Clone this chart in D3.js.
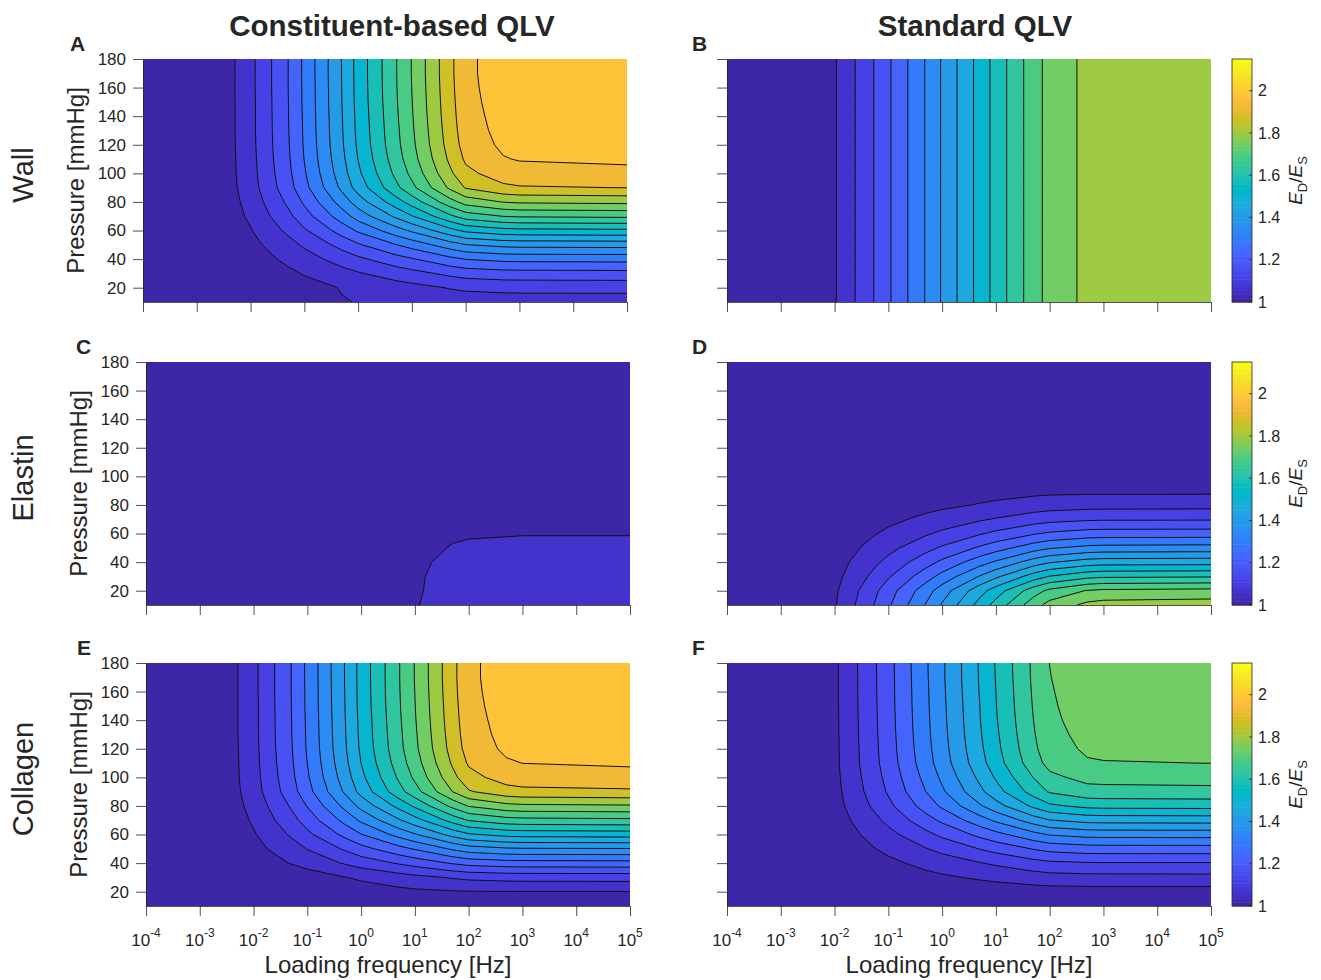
<!DOCTYPE html>
<html>
<head>
<meta charset="utf-8">
<script src="https://cdn.jsdelivr.net/npm/d3@7"></script>
<style>
  body { margin: 0; background: #fff; }
  text { font-family: "Liberation Sans", Arial, Helvetica, sans-serif; fill: #262626; }
</style>
</head>
<body>
<svg id="fig" width="1321" height="980"></svg>
<script>
// grid columns (loading frequency, Hz) and rows (pressure, mmHg)
const freqHz = [1e-4, 1e-3, 5e-3, 1e-2, 5e-2, 1e-1, 5e-1, 1, 5, 10, 50, 100, 500, 1e3, 1e5];
const pressureMmHg = [10, 20, 30, 40, 50, 60, 70, 80, 90, 100, 110, 120, 130, 140, 150, 160, 170, 180];

// E_D/E_S, one row per pressure (first row = 10 mmHg)
const wallConstituent = [
  [1, 1, 1.005, 1.009, 1.023, 1.032, 1.055, 1.059, 1.072, 1.076, 1.082, 1.084, 1.086, 1.087, 1.087],
  [1, 1, 1.007, 1.013, 1.030, 1.039, 1.060, 1.070, 1.089, 1.097, 1.118, 1.125, 1.131, 1.132, 1.133],
  [1, 1, 1.012, 1.020, 1.047, 1.061, 1.095, 1.110, 1.141, 1.154, 1.185, 1.197, 1.207, 1.208, 1.210],
  [1, 1, 1.017, 1.030, 1.069, 1.090, 1.139, 1.161, 1.206, 1.225, 1.271, 1.289, 1.303, 1.305, 1.307],
  [1, 1, 1.023, 1.041, 1.095, 1.124, 1.192, 1.223, 1.285, 1.311, 1.375, 1.400, 1.419, 1.422, 1.425],
  [1, 1, 1.031, 1.054, 1.127, 1.165, 1.254, 1.296, 1.377, 1.412, 1.497, 1.530, 1.555, 1.559, 1.563],
  [1, 1, 1.039, 1.068, 1.158, 1.205, 1.317, 1.369, 1.470, 1.514, 1.619, 1.660, 1.691, 1.696, 1.701],
  [1, 1, 1.045, 1.079, 1.184, 1.239, 1.370, 1.431, 1.549, 1.600, 1.723, 1.771, 1.807, 1.813, 1.819],
  [1, 1, 1.051, 1.089, 1.207, 1.269, 1.416, 1.484, 1.617, 1.675, 1.814, 1.867, 1.908, 1.915, 1.921],
  [1, 1, 1.053, 1.093, 1.216, 1.281, 1.435, 1.506, 1.645, 1.705, 1.850, 1.905, 1.949, 1.956, 1.962],
  [1, 1, 1.054, 1.095, 1.222, 1.289, 1.446, 1.519, 1.662, 1.724, 1.872, 1.929, 1.974, 1.981, 1.988],
  [1, 1, 1.055, 1.097, 1.225, 1.293, 1.453, 1.527, 1.672, 1.734, 1.885, 1.943, 1.988, 1.995, 2.002],
  [1, 1, 1.056, 1.098, 1.227, 1.295, 1.456, 1.531, 1.676, 1.739, 1.891, 1.950, 1.995, 2.002, 2.009],
  [1, 1, 1.056, 1.098, 1.228, 1.296, 1.458, 1.533, 1.680, 1.743, 1.896, 1.954, 2.000, 2.008, 2.014],
  [1, 1, 1.056, 1.098, 1.229, 1.298, 1.460, 1.536, 1.683, 1.746, 1.899, 1.958, 2.004, 2.012, 2.018],
  [1, 1, 1.056, 1.099, 1.230, 1.298, 1.461, 1.537, 1.685, 1.748, 1.902, 1.961, 2.007, 2.015, 2.021],
  [1, 1, 1.056, 1.099, 1.230, 1.299, 1.462, 1.538, 1.686, 1.750, 1.904, 1.963, 2.009, 2.017, 2.024],
  [1, 1, 1.056, 1.099, 1.230, 1.299, 1.462, 1.538, 1.686, 1.750, 1.904, 1.963, 2.009, 2.017, 2.024]
];

// standard QLV for the wall does not change with pressure
const wallStandardByFreq = [1, 1, 1, 1.052, 1.167, 1.221, 1.349, 1.408, 1.539, 1.596, 1.723, 1.768, 1.819, 1.828, 1.834];

const elastinConstituent = [
  [1, 1, 1, 1, 1, 1, 1.006, 1.012, 1.035, 1.055, 1.075, 1.078, 1.081, 1.081, 1.081],
  [1, 1, 1, 1, 1, 1, 1.006, 1.012, 1.032, 1.053, 1.073, 1.076, 1.078, 1.078, 1.078],
  [1, 1, 1, 1, 1, 1, 1.005, 1.010, 1.029, 1.052, 1.072, 1.074, 1.075, 1.075, 1.075],
  [1, 1, 1, 1, 1, 1, 1.003, 1.009, 1.026, 1.049, 1.068, 1.070, 1.072, 1.072, 1.072],
  [1, 1, 1, 1, 1, 1, 1.002, 1.006, 1.023, 1.043, 1.060, 1.063, 1.066, 1.066, 1.066],
  [1, 1, 1, 1, 1, 1, 1.002, 1.005, 1.017, 1.035, 1.052, 1.054, 1.055, 1.056, 1.056],
  [1, 1, 1, 1, 1, 1, 1.001, 1.003, 1.014, 1.029, 1.043, 1.045, 1.046, 1.046, 1.046],
  [1, 1, 1, 1, 1, 1, 1, 1.003, 1.012, 1.023, 1.035, 1.036, 1.036, 1.036, 1.036],
  [1, 1, 1, 1, 1, 1, 1, 1.003, 1.012, 1.023, 1.035, 1.036, 1.036, 1.036, 1.036],
  [1, 1, 1, 1, 1, 1, 1, 1.003, 1.012, 1.023, 1.035, 1.036, 1.036, 1.036, 1.036],
  [1, 1, 1, 1, 1, 1, 1, 1.003, 1.012, 1.023, 1.035, 1.036, 1.036, 1.036, 1.036],
  [1, 1, 1, 1, 1, 1, 1, 1.003, 1.012, 1.023, 1.035, 1.036, 1.036, 1.036, 1.036],
  [1, 1, 1, 1, 1, 1, 1, 1.003, 1.012, 1.023, 1.035, 1.036, 1.036, 1.036, 1.036],
  [1, 1, 1, 1, 1, 1, 1, 1.003, 1.012, 1.023, 1.035, 1.036, 1.036, 1.036, 1.036],
  [1, 1, 1, 1, 1, 1, 1, 1.003, 1.012, 1.023, 1.035, 1.036, 1.036, 1.036, 1.036],
  [1, 1, 1, 1, 1, 1, 1, 1.003, 1.012, 1.023, 1.035, 1.036, 1.036, 1.036, 1.036],
  [1, 1, 1, 1, 1, 1, 1, 1.003, 1.012, 1.023, 1.035, 1.036, 1.036, 1.036, 1.036],
  [1, 1, 1, 1, 1, 1, 1, 1.003, 1.012, 1.023, 1.035, 1.036, 1.036, 1.036, 1.036]
];

const elastinStandard = [
  [1, 1, 1, 1.052, 1.167, 1.221, 1.349, 1.408, 1.539, 1.596, 1.723, 1.768, 1.819, 1.828, 1.834],
  [1, 1, 1, 1.047, 1.153, 1.203, 1.320, 1.374, 1.495, 1.546, 1.663, 1.704, 1.751, 1.759, 1.765],
  [1, 1, 1, 1.039, 1.125, 1.166, 1.262, 1.307, 1.406, 1.448, 1.544, 1.577, 1.616, 1.623, 1.627],
  [1, 1, 1, 1.031, 1.099, 1.131, 1.207, 1.242, 1.320, 1.353, 1.429, 1.455, 1.486, 1.491, 1.494],
  [1, 1, 1, 1.023, 1.074, 1.098, 1.154, 1.180, 1.238, 1.263, 1.319, 1.339, 1.361, 1.365, 1.368],
  [1, 1, 1, 1.016, 1.052, 1.069, 1.108, 1.126, 1.167, 1.185, 1.224, 1.238, 1.254, 1.257, 1.258],
  [1, 1, 1, 1.010, 1.033, 1.044, 1.070, 1.082, 1.108, 1.119, 1.145, 1.154, 1.164, 1.166, 1.167],
  [1, 1, 1, 1.006, 1.019, 1.025, 1.040, 1.046, 1.061, 1.068, 1.082, 1.088, 1.093, 1.094, 1.095],
  [1, 1, 1, 1.003, 1.010, 1.013, 1.020, 1.024, 1.032, 1.035, 1.042, 1.044, 1.045, 1.045, 1.045],
  [1, 1, 1, 1.002, 1.005, 1.007, 1.011, 1.013, 1.017, 1.018, 1.022, 1.024, 1.025, 1.026, 1.026],
  [1, 1, 1, 1.001, 1.003, 1.004, 1.006, 1.007, 1.009, 1.010, 1.012, 1.013, 1.014, 1.014, 1.014],
  [1, 1, 1, 1.001, 1.002, 1.002, 1.004, 1.004, 1.006, 1.006, 1.007, 1.008, 1.008, 1.009, 1.009],
  [1, 1, 1, 1, 1.001, 1.001, 1.002, 1.002, 1.003, 1.004, 1.004, 1.005, 1.005, 1.005, 1.005],
  [1, 1, 1, 1, 1, 1, 1, 1, 1, 1, 1, 1, 1, 1, 1],
  [1, 1, 1, 1, 1, 1, 1, 1, 1, 1, 1, 1, 1, 1, 1],
  [1, 1, 1, 1, 1, 1, 1, 1, 1, 1, 1, 1, 1, 1, 1],
  [1, 1, 1, 1, 1, 1, 1, 1, 1, 1, 1, 1, 1, 1, 1],
  [1, 1, 1, 1, 1, 1, 1, 1, 1, 1, 1, 1, 1, 1, 1]
];

const collagenConstituent = [
  [1, 1, 1, 1.001, 1.003, 1.005, 1.009, 1.012, 1.017, 1.019, 1.022, 1.023, 1.024, 1.024, 1.024],
  [1, 1, 1.001, 1.003, 1.009, 1.013, 1.026, 1.032, 1.043, 1.047, 1.053, 1.055, 1.056, 1.056, 1.056],
  [1, 1, 1.003, 1.007, 1.020, 1.029, 1.056, 1.066, 1.089, 1.099, 1.120, 1.128, 1.135, 1.137, 1.138],
  [1, 1, 1.015, 1.026, 1.060, 1.078, 1.120, 1.140, 1.178, 1.195, 1.235, 1.250, 1.262, 1.264, 1.266],
  [1, 1, 1.022, 1.039, 1.090, 1.117, 1.180, 1.210, 1.268, 1.292, 1.353, 1.376, 1.394, 1.397, 1.399],
  [1, 1, 1.030, 1.052, 1.122, 1.159, 1.245, 1.285, 1.364, 1.397, 1.479, 1.510, 1.535, 1.539, 1.543],
  [1, 1, 1.037, 1.065, 1.152, 1.197, 1.305, 1.355, 1.453, 1.495, 1.597, 1.636, 1.666, 1.671, 1.676],
  [1, 1, 1.044, 1.077, 1.179, 1.233, 1.361, 1.420, 1.535, 1.585, 1.705, 1.751, 1.787, 1.793, 1.798],
  [1, 1, 1.050, 1.088, 1.205, 1.266, 1.411, 1.479, 1.611, 1.667, 1.805, 1.857, 1.898, 1.905, 1.911],
  [1, 1, 1.053, 1.092, 1.215, 1.280, 1.432, 1.503, 1.641, 1.701, 1.845, 1.901, 1.944, 1.951, 1.957],
  [1, 1, 1.054, 1.095, 1.221, 1.288, 1.445, 1.518, 1.660, 1.721, 1.870, 1.927, 1.971, 1.978, 1.985],
  [1, 1, 1.055, 1.097, 1.225, 1.293, 1.453, 1.527, 1.672, 1.734, 1.885, 1.943, 1.988, 1.995, 2.002],
  [1, 1, 1.056, 1.098, 1.227, 1.295, 1.456, 1.531, 1.676, 1.739, 1.891, 1.950, 1.995, 2.002, 2.009],
  [1, 1, 1.056, 1.098, 1.228, 1.296, 1.458, 1.533, 1.680, 1.743, 1.896, 1.954, 2.000, 2.008, 2.014],
  [1, 1, 1.056, 1.098, 1.229, 1.298, 1.460, 1.536, 1.683, 1.746, 1.899, 1.958, 2.004, 2.012, 2.018],
  [1, 1, 1.056, 1.099, 1.230, 1.298, 1.461, 1.537, 1.685, 1.748, 1.902, 1.961, 2.007, 2.015, 2.021],
  [1, 1, 1.056, 1.099, 1.230, 1.299, 1.462, 1.538, 1.686, 1.750, 1.904, 1.963, 2.009, 2.017, 2.024],
  [1, 1, 1.056, 1.099, 1.230, 1.299, 1.462, 1.538, 1.686, 1.750, 1.904, 1.963, 2.009, 2.017, 2.024]
];

const collagenStandard = [
  [1, 1, 1, 1.001, 1.002, 1.003, 1.005, 1.006, 1.008, 1.009, 1.011, 1.011, 1.012, 1.012, 1.012],
  [1, 1, 1, 1.002, 1.007, 1.009, 1.015, 1.017, 1.023, 1.025, 1.031, 1.033, 1.034, 1.035, 1.035],
  [1, 1, 1, 1.006, 1.020, 1.026, 1.042, 1.049, 1.065, 1.072, 1.087, 1.093, 1.097, 1.097, 1.098],
  [1, 1, 1, 1.010, 1.034, 1.045, 1.073, 1.085, 1.112, 1.124, 1.151, 1.161, 1.168, 1.169, 1.169],
  [1, 1, 1, 1.015, 1.053, 1.070, 1.112, 1.131, 1.174, 1.192, 1.233, 1.248, 1.260, 1.261, 1.262],
  [1, 1, 1, 1.021, 1.074, 1.098, 1.158, 1.184, 1.244, 1.270, 1.327, 1.349, 1.365, 1.367, 1.368],
  [1, 1, 1, 1.028, 1.097, 1.129, 1.207, 1.241, 1.320, 1.355, 1.430, 1.458, 1.479, 1.481, 1.483],
  [1, 1, 1, 1.035, 1.120, 1.158, 1.255, 1.297, 1.395, 1.437, 1.529, 1.564, 1.590, 1.593, 1.595],
  [1, 1, 1, 1.039, 1.136, 1.179, 1.288, 1.336, 1.446, 1.494, 1.599, 1.638, 1.668, 1.670, 1.673],
  [1, 1, 1, 1.042, 1.144, 1.190, 1.305, 1.356, 1.473, 1.524, 1.634, 1.676, 1.708, 1.710, 1.713],
  [1, 1, 1, 1.044, 1.151, 1.199, 1.320, 1.373, 1.496, 1.549, 1.665, 1.709, 1.742, 1.745, 1.748],
  [1, 1, 1, 1.044, 1.153, 1.203, 1.326, 1.380, 1.505, 1.559, 1.678, 1.723, 1.756, 1.759, 1.762],
  [1, 1, 1, 1.045, 1.155, 1.205, 1.330, 1.384, 1.511, 1.565, 1.685, 1.730, 1.764, 1.767, 1.770],
  [1, 1, 1, 1.045, 1.156, 1.207, 1.332, 1.387, 1.515, 1.570, 1.690, 1.736, 1.770, 1.773, 1.776],
  [1, 1, 1, 1.046, 1.157, 1.208, 1.334, 1.389, 1.517, 1.573, 1.694, 1.740, 1.774, 1.777, 1.780],
  [1, 1, 1, 1.046, 1.158, 1.209, 1.335, 1.391, 1.520, 1.575, 1.697, 1.743, 1.777, 1.780, 1.783],
  [1, 1, 1, 1.046, 1.158, 1.209, 1.337, 1.393, 1.522, 1.577, 1.700, 1.746, 1.780, 1.783, 1.786],
  [1, 1, 1, 1.046, 1.159, 1.210, 1.338, 1.393, 1.523, 1.579, 1.701, 1.748, 1.782, 1.785, 1.788]
];

const contourLevels = [1.0575, 1.115, 1.1725, 1.23, 1.2875, 1.345, 1.4025, 1.46, 1.5175, 1.575,
  1.6325, 1.69, 1.7475, 1.805, 1.8625, 1.92, 1.9775, 2.035, 2.0925];
const colorLimits = [1, 2.15];
const freqTickExponents = [-4, -3, -2, -1, 0, 1, 2, 3, 4, 5];
const pressureTicks = [20, 40, 60, 80, 100, 120, 140, 160, 180];
const colorbarTicks = [1, 1.2, 1.4, 1.6, 1.8, 2];

// MATLAB parula, 64 entries
const parula = [
  [0.2422,0.1504,0.6603],[0.2504,0.1650,0.7076],[0.2578,0.1818,0.7511],[0.2647,0.1978,0.7952],
  [0.2706,0.2147,0.8364],[0.2751,0.2342,0.8710],[0.2783,0.2559,0.8991],[0.2803,0.2782,0.9221],
  [0.2813,0.3006,0.9414],[0.2810,0.3228,0.9579],[0.2795,0.3447,0.9717],[0.2760,0.3667,0.9829],
  [0.2699,0.3892,0.9906],[0.2602,0.4123,0.9952],[0.2440,0.4358,0.9988],[0.2206,0.4603,0.9973],
  [0.1963,0.4847,0.9892],[0.1834,0.5074,0.9798],[0.1786,0.5289,0.9682],[0.1764,0.5499,0.9520],
  [0.1687,0.5703,0.9359],[0.1540,0.5902,0.9218],[0.1460,0.6091,0.9079],[0.1380,0.6276,0.8973],
  [0.1248,0.6459,0.8883],[0.1113,0.6635,0.8763],[0.0952,0.6798,0.8598],[0.0689,0.6948,0.8394],
  [0.0297,0.7082,0.8163],[0.0036,0.7203,0.7917],[0.0067,0.7312,0.7660],[0.0433,0.7411,0.7394],
  [0.0964,0.7500,0.7120],[0.1408,0.7584,0.6842],[0.1717,0.7670,0.6554],[0.1938,0.7758,0.6251],
  [0.2161,0.7843,0.5923],[0.2470,0.7918,0.5567],[0.2906,0.7973,0.5188],[0.3406,0.8008,0.4789],
  [0.3909,0.8029,0.4354],[0.4456,0.8024,0.3909],[0.5044,0.7993,0.3480],[0.5616,0.7942,0.3045],
  [0.6174,0.7876,0.2612],[0.6720,0.7793,0.2227],[0.7242,0.7698,0.1910],[0.7738,0.7598,0.1646],
  [0.8203,0.7498,0.1535],[0.8634,0.7406,0.1596],[0.9035,0.7330,0.1774],[0.9393,0.7288,0.2100],
  [0.9728,0.7298,0.2394],[0.9956,0.7434,0.2371],[0.9970,0.7659,0.2199],[0.9952,0.7893,0.2028],
  [0.9892,0.8136,0.1885],[0.9786,0.8386,0.1766],[0.9676,0.8639,0.1643],[0.9610,0.8890,0.1537],
  [0.9597,0.9135,0.1423],[0.9628,0.9373,0.1265],[0.9691,0.9606,0.1064],[0.9769,0.9839,0.0805]
];

const svg = d3.select('#fig');
const axisColor = '#262626';

function colorOf(v) {
  const t = (v - colorLimits[0]) / (colorLimits[1] - colorLimits[0]);
  const i = Math.max(0, Math.min(63, Math.floor(t * 64 + 1e-6)));
  return d3.rgb(parula[i][0] * 255, parula[i][1] * 255, parula[i][2] * 255).formatHex();
}

const panels = [
  { key: 'A', grid: wallConstituent, left: 143, right: 627, top: 59, bottom: 302, yLabels: true, xLabels: false, bar: false, letterX: 70 },
  { key: 'B', grid: pressureMmHg.map(() => wallStandardByFreq), left: 727, right: 1211, top: 59, bottom: 302, yLabels: false, xLabels: false, bar: true, letterX: 692 },
  { key: 'C', grid: elastinConstituent, left: 146, right: 630, top: 362, bottom: 605, yLabels: true, xLabels: false, bar: false, letterX: 76 },
  { key: 'D', grid: elastinStandard, left: 727, right: 1211, top: 362, bottom: 605, yLabels: false, xLabels: false, bar: true, letterX: 692 },
  { key: 'E', grid: collagenConstituent, left: 146, right: 630, top: 663, bottom: 906, yLabels: true, xLabels: true, bar: false, letterX: 77 },
  { key: 'F', grid: collagenStandard, left: 727, right: 1211, top: 663, bottom: 906, yLabels: false, xLabels: true, bar: true, letterX: 692 }
];

// cut a ring into the parts that are not on the plot border
function splitIsolines(pts, p) {
  const eq = (a, b) => Math.abs(a - b) < 1e-6;
  const onBorder = (u, v) =>
    (eq(u[0], v[0]) && (eq(u[0], p.left) || eq(u[0], p.right))) ||
    (eq(u[1], v[1]) && (eq(u[1], p.top) || eq(u[1], p.bottom)));
  const out = [];
  let cur = [];
  for (let i = 1; i < pts.length; i++) {
    if (onBorder(pts[i - 1], pts[i])) {
      if (cur.length > 1) out.push(cur);
      cur = [];
    } else {
      if (!cur.length) cur.push(pts[i - 1]);
      cur.push(pts[i]);
    }
  }
  if (cur.length > 1) out.push(cur);
  return out;
}

function drawPanel(p) {
  const g = svg.append('g');
  const x = d3.scaleLog().domain([1e-4, 1e5]).range([p.left, p.right]);
  const y = d3.scaleLinear().domain([10, 180]).range([p.bottom, p.top]);
  const nx = freqHz.length, ny = pressureMmHg.length;

  // grid index -> data coordinates
  const colLog = d3.scaleLinear().domain(d3.range(nx)).range(freqHz.map(Math.log10));
  const rowP = d3.scaleLinear().domain(d3.range(ny)).range(pressureMmHg);
  const clampIdx = (c, n) => Math.max(0, Math.min(n - 1, c - 0.5));
  const toPx = ([a, b]) => [x(Math.pow(10, colLog(clampIdx(a, nx)))), y(rowP(clampIdx(b, ny)))];

  const contours = d3.contours().size([nx, ny]).thresholds(contourLevels)(p.grid.flat());

  const clipId = 'clip' + p.key;
  g.append('clipPath').attr('id', clipId).append('rect')
    .attr('x', p.left).attr('y', p.top)
    .attr('width', p.right - p.left).attr('height', p.bottom - p.top);
  const plot = g.append('g').attr('clip-path', `url(#${clipId})`);

  plot.append('rect')
    .attr('x', p.left).attr('y', p.top)
    .attr('width', p.right - p.left).attr('height', p.bottom - p.top)
    .attr('fill', colorOf(colorLimits[0]));

  const line = d3.line();
  contours.forEach(c => {
    if (!c.coordinates.length) return;
    const d = c.coordinates.map(poly => poly.map(ring => line(ring.map(toPx)) + 'Z').join('')).join('');
    plot.append('path').attr('d', d).attr('fill', colorOf(c.value)).attr('fill-rule', 'evenodd');
  });

  contours.forEach(c => {
    c.coordinates.forEach(poly => poly.forEach(ring => {
      splitIsolines(ring.map(toPx), p).forEach(seg => {
        plot.append('path').attr('d', line(seg))
          .attr('fill', 'none').attr('stroke', '#111').attr('stroke-width', 1);
      });
    }));
  });

  // axes
  const yAxis = d3.axisLeft(y).tickValues(pressureTicks).tickSize(10).tickSizeOuter(0).tickPadding(7)
    .tickFormat(p.yLabels ? d3.format('d') : () => '');
  const ya = g.append('g').attr('transform', `translate(${p.left},0)`).call(yAxis);
  const xAxis = d3.axisBottom(x).tickValues(freqTickExponents.map(e => Math.pow(10, e)))
    .tickSize(10).tickSizeOuter(0).tickFormat(() => '');
  const xa = g.append('g').attr('transform', `translate(0,${p.bottom})`).call(xAxis);
  [ya, xa].forEach(a => {
    a.selectAll('path, line').attr('stroke', axisColor).attr('stroke-width', 0.8);
    a.selectAll('text').attr('font-size', 17).attr('fill', axisColor)
      .attr('font-family', '"Liberation Sans", Arial, sans-serif');
  });

  if (p.xLabels) {
    freqTickExponents.forEach(e => {
      const t = g.append('text').attr('x', x(Math.pow(10, e))).attr('y', p.bottom + 40)
        .attr('text-anchor', 'middle').attr('font-size', 17);
      t.append('tspan').text('10');
      t.append('tspan').attr('dy', -9).attr('font-size', 12).text(String(e));
    });
    g.append('text').attr('x', (p.left + p.right) / 2).attr('y', p.bottom + 67)
      .attr('text-anchor', 'middle').attr('font-size', 24).text('Loading frequency [Hz]');
  }
  if (p.yLabels) {
    g.append('text')
      .attr('transform', `translate(${p.left - 59},${(p.top + p.bottom) / 2}) rotate(-90)`)
      .attr('text-anchor', 'middle').attr('font-size', 24).text('Pressure [mmHg]');
  }

  g.append('text').attr('x', p.letterX).attr('y', p.top - 8)
    .attr('font-size', 21).attr('font-weight', 'bold').attr('fill', '#000').text(p.key);

  if (p.bar) drawColorbar(p);
}

function drawColorbar(p) {
  const g = svg.append('g');
  const left = 1232, width = 20;
  const cy = d3.scaleLinear().domain(colorLimits).range([p.bottom, p.top]);
  const step = (colorLimits[1] - colorLimits[0]) / 64;
  d3.range(64).forEach(i => {
    const v0 = colorLimits[0] + i * step;
    g.append('rect').attr('x', left).attr('width', width)
      .attr('y', cy(v0 + step)).attr('height', cy(v0) - cy(v0 + step) + 0.5)
      .attr('fill', colorOf(v0 + step / 2));
  });
  g.append('rect').attr('x', left).attr('y', p.top).attr('width', width).attr('height', p.bottom - p.top)
    .attr('fill', 'none').attr('stroke', axisColor).attr('stroke-width', 0.8);
  colorbarTicks.forEach(v => {
    g.append('line').attr('x1', left + width - 3).attr('x2', left + width)
      .attr('y1', cy(v)).attr('y2', cy(v)).attr('stroke', axisColor).attr('stroke-width', 0.8);
    g.append('text').attr('x', left + width + 6).attr('y', cy(v)).attr('dy', '0.35em')
      .attr('font-size', 16).text(String(v));
  });
  const lab = g.append('text')
    .attr('transform', `translate(1302,${(p.top + p.bottom) / 2}) rotate(-90)`)
    .attr('text-anchor', 'middle').attr('font-size', 19);
  lab.append('tspan').attr('font-style', 'italic').text('E');
  lab.append('tspan').attr('dy', 5).attr('font-size', 13).text('D');
  lab.append('tspan').attr('dy', -5).text('/');
  lab.append('tspan').attr('font-style', 'italic').text('E');
  lab.append('tspan').attr('dy', 5).attr('font-size', 13).text('S');
}

panels.forEach(drawPanel);

// column titles and row labels
svg.append('text').attr('x', 392).attr('y', 36).attr('text-anchor', 'middle')
  .attr('font-size', 29.5).attr('font-weight', 'bold').attr('fill', '#000').text('Constituent-based QLV');
svg.append('text').attr('x', 975).attr('y', 36).attr('text-anchor', 'middle')
  .attr('font-size', 29.5).attr('font-weight', 'bold').attr('fill', '#000').text('Standard QLV');
[['Wall', 175], ['Elastin', 478], ['Collagen', 779]].forEach(([name, cy]) => {
  svg.append('text').attr('transform', `translate(33,${cy}) rotate(-90)`)
    .attr('text-anchor', 'middle').attr('font-size', 29).attr('fill', '#000').text(name);
});
</script>
</body>
</html>
